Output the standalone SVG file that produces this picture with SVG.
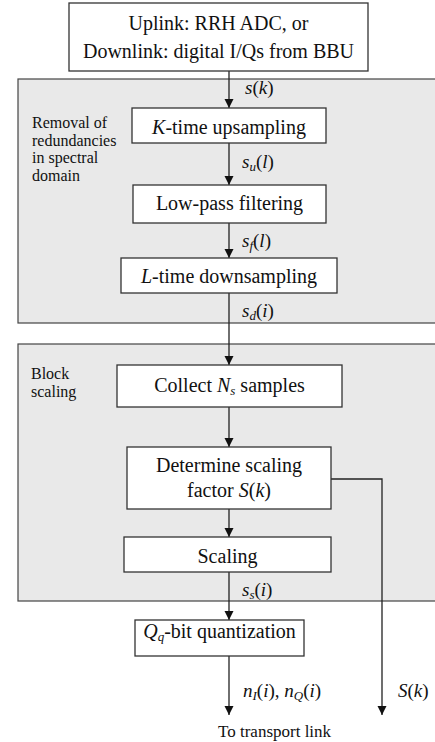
<svg xmlns="http://www.w3.org/2000/svg" width="435" height="742" viewBox="0 0 435 742">
<style>
.panel{fill:#e9e9e9;stroke:#444;stroke-width:1.2}
.box{fill:#fff;stroke:#333;stroke-width:1.3}
text{font-family:'Liberation Serif','Times New Roman',serif;fill:#111}
.t{font-size:20px;text-anchor:middle}
.side{font-size:16px}
.lab{font-size:19px}
.i{font-style:italic}
.conn line,.conn polyline{stroke:#222;stroke-width:1.3;fill:none}
</style>
<defs>
<marker id="ah" markerUnits="userSpaceOnUse" markerWidth="9" markerHeight="10" refX="9" refY="4.5" orient="auto">
<path d="M0,0 L9,4.5 L0,9 z" fill="#111"/>
</marker>
</defs>
<rect class="panel" x="18" y="79" width="430" height="244"/>
<rect class="panel" x="18" y="344" width="430" height="257"/>
<g id="panel-labels">
<text class="side" x="32" y="128">Removal of</text>
<text class="side" x="32" y="145.5">redundancies</text>
<text class="side" x="32" y="163">in spectral</text>
<text class="side" x="32" y="180.5">domain</text>
<text class="side" x="31" y="379">Block</text>
<text class="side" x="31" y="397">scaling</text>
</g>
<g class="conn" id="connectors">
<line x1="229" y1="71" x2="229" y2="108" marker-end="url(#ah)"/>
<line x1="229" y1="143" x2="229" y2="185" marker-end="url(#ah)"/>
<line x1="229" y1="223" x2="229" y2="258" marker-end="url(#ah)"/>
<line x1="229" y1="293" x2="229" y2="365" marker-end="url(#ah)"/>
<line x1="229" y1="407" x2="229" y2="447" marker-end="url(#ah)"/>
<line x1="229" y1="509" x2="229" y2="537" marker-end="url(#ah)"/>
<line x1="229" y1="572" x2="229" y2="620" marker-end="url(#ah)"/>
<line x1="229" y1="656" x2="229" y2="715" marker-end="url(#ah)"/>
<polyline points="331,479 382,479 382,715" marker-end="url(#ah)"/>
<text class="lab" x="245" y="94"><tspan class="i">s</tspan>(<tspan class="i">k</tspan>)</text>
<text class="lab" x="242" y="168"><tspan class="i">s</tspan><tspan class="i" font-size="13" dy="3">u</tspan><tspan dy="-3">(</tspan><tspan class="i">l</tspan>)</text>
<text class="lab" x="242" y="247"><tspan class="i">s</tspan><tspan class="i" font-size="13" dy="3">f</tspan><tspan dy="-3">(</tspan><tspan class="i">l</tspan>)</text>
<text class="lab" x="242" y="317"><tspan class="i">s</tspan><tspan class="i" font-size="13" dy="3">d</tspan><tspan dy="-3">(</tspan><tspan class="i">i</tspan>)</text>
<text class="lab" x="242" y="596"><tspan class="i">s</tspan><tspan class="i" font-size="13" dy="3">s</tspan><tspan dy="-3">(</tspan><tspan class="i">i</tspan>)</text>
<text class="lab" x="243" y="697"><tspan class="i">n</tspan><tspan class="i" font-size="13" dy="3">I</tspan><tspan dy="-3">(</tspan><tspan class="i">i</tspan>), <tspan class="i">n</tspan><tspan class="i" font-size="13" dy="3">Q</tspan><tspan dy="-3">(</tspan><tspan class="i">i</tspan>)</text>
<text class="lab" x="398" y="697"><tspan class="i">S</tspan>(<tspan class="i">k</tspan>)</text>
<text class="side" x="218" y="737" style="font-size:17px">To transport link</text>
</g>
<g id="source">
<rect class="box" x="69" y="3" width="299" height="68"/>
<text class="t" x="218.5" y="30">Uplink: RRH ADC, or</text>
<text class="t" x="218.5" y="58">Downlink: digital I/Qs from BBU</text>
</g>
<g id="upsampling">
<rect class="box" x="132" y="108" width="194" height="35"/>
<text class="t" x="229" y="134"><tspan class="i">K</tspan>-time upsampling</text>
</g>
<g id="lowpass">
<rect class="box" x="133" y="185" width="193" height="38"/>
<text class="t" x="229.5" y="210">Low-pass filtering</text>
</g>
<g id="downsampling">
<rect class="box" x="121" y="258" width="216" height="35"/>
<text class="t" x="229" y="283"><tspan class="i">L</tspan>-time downsampling</text>
</g>
<g id="collect">
<rect class="box" x="117" y="365" width="225" height="42"/>
<text class="t" x="229.5" y="392">Collect <tspan class="i">N</tspan><tspan class="i" font-size="13" dy="3">s</tspan><tspan dy="-3"> samples</tspan></text>
</g>
<g id="determine">
<rect class="box" x="127" y="447" width="204" height="62"/>
<text class="t" x="229" y="472">Determine scaling</text>
<text class="t" x="229" y="497">factor <tspan class="i">S</tspan>(<tspan class="i">k</tspan>)</text>
</g>
<g id="scaling">
<rect class="box" x="124" y="537" width="207" height="35"/>
<text class="t" x="227.5" y="563">Scaling</text>
</g>
<g id="quantization">
<rect class="box" x="135" y="620" width="169" height="36"/>
<text class="t" x="219.5" y="638"><tspan class="i">Q</tspan><tspan class="i" font-size="13" dy="3">q</tspan><tspan dy="-3">-bit quantization</tspan></text>
</g>
</svg>
